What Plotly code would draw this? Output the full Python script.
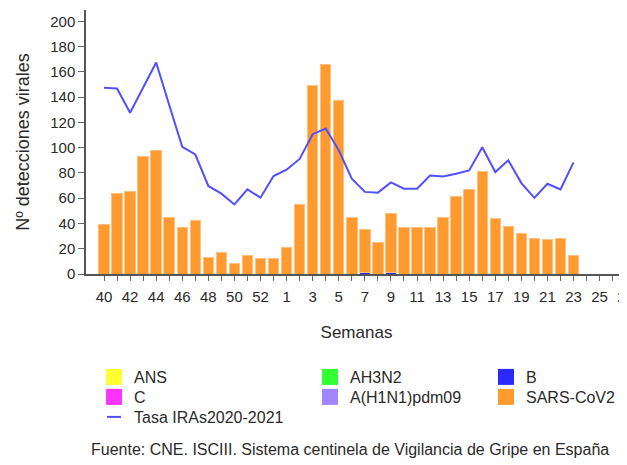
import plotly.graph_objects as go

weeks = ["40", "41", "42", "43", "44", "45", "46", "47", "48", "49", "50", "51", "52", "53",
         "1", "2", "3", "4", "5", "6", "7", "8", "9", "10", "11", "12", "13", "14", "15",
         "16", "17", "18", "19", "20", "21", "22", "23"]
axis_weeks = weeks + ["24", "25", "26", "27"]
tick_labels = ["40", "", "42", "", "44", "", "46", "", "48", "", "50", "", "52", "",
               "1", "", "3", "", "5", "", "7", "", "9", "", "11", "", "13", "", "15",
               "", "17", "", "19", "", "21", "", "23", "", "25", "", "27"]

sars_cov2 = [39, 64, 65, 93, 98, 45, 37, 42, 13, 17, 8, 15, 12, 12,
             21, 55, 149, 166, 137, 45, 34, 25, 47, 37, 37, 37, 45, 61, 67,
             81, 44, 38, 32, 28, 27, 28, 15]
b_virus = [0, 0, 0, 0, 0, 0, 0, 0, 0, 0, 0, 0, 0, 0,
           0, 0, 0, 0, 0, 0, 1, 0, 1, 0, 0, 0, 0, 0, 0,
           0, 0, 0, 0, 0, 0, 0, 0]
ans = [0, 0, 0, 0, 0, 0, 0, 0, 0, 0, 0, 0, 0, 0,
       0, 0, 0, 0, 0, 0, 0, 0, 0, 0, 0, 0, 0, 0, 0,
       0, 0, 0, 0, 0, 0, 0, 0]
c_virus = ans
ah3n2 = ans
h1n1 = ans
tasa_iras = [147.5, 146.8, 127.7, 147.5, 167.4, 133.8, 100.7, 94.6, 69.7, 63.6, 55.1, 67, 60.4, 77.6,
             82.6, 91.1, 110.7, 115.2, 98, 75.5, 65, 64.4, 72.5, 67.5, 67.5, 78, 77.2, 79.4, 82,
             100.3, 80.7, 90, 72, 60.3, 71.4, 67, 88.4]

series_names = ["ANS", "C", "AH3N2", "A(H1N1)pdm09", "B", "SARS-CoV2"]
series_values = [ans, c_virus, ah3n2, h1n1, b_virus, sars_cov2]
series_colors = ["#ffff33", "#ff33ff", "#33ff33", "#a184ff", "#2a2aff", "#ff9a2e"]
line_name = "Tasa IRAs2020-2021"
line_color = "#5050ff"

text_col = "#2a2a2a"
font_family = "Liberation Sans, Arial, sans-serif"

# the page has an 8px body margin; positions below are in page pixels.
# plot area in page pixels: x 86..627, y 10..274
def px_x(p):
    return (p - 86) / 541

def px_y(p):
    return (274 - p) / 264

# legend slot (left x, top y) in page pixels for each entry
legend_slots = {
    "ANS": (94, 360), "C": (94, 380), line_name: (94, 400),
    "AH3N2": (310, 360), "A(H1N1)pdm09": (310, 380),
    "B": (486, 360), "SARS-CoV2": (486, 380),
}

fig = go.Figure()

for name, vals, color in zip(series_names, series_values, series_colors):
    line = dict(color="#ffbf80", width=1) if name == "SARS-CoV2" else dict(width=0)
    fig.add_trace(go.Bar(x=weeks, y=vals, name=name, showlegend=False,
                         marker=dict(color=color, line=line)))
fig.add_trace(go.Scatter(x=weeks, y=tasa_iras, name=line_name, showlegend=False,
                         mode="lines", line=dict(color=line_color, width=2)))

leg_common = dict(xanchor="left", yanchor="top",
                  bgcolor="rgba(0,0,0,0)", font=dict(size=16, color=text_col, family=font_family),
                  itemwidth=30, itemsizing="trace")

legend_layout = {}
entries = [(n, c, "square", 16) for n, c in zip(series_names, series_colors)]
entries.append((line_name, line_color, "line-ew", 10))
for i, (name, color, symbol, size) in enumerate(entries):
    key = "legend" if i == 0 else f"legend{i + 1}"
    fig.add_trace(go.Scatter(x=[None], y=[None], name=name, legend=key, mode="markers",
                             marker=dict(symbol=symbol, size=size, color=color,
                                         line=dict(color=color, width=2 if symbol == "line-ew" else 0))))
    lx, ly = legend_slots[name]
    legend_layout[key] = dict(x=px_x(lx), y=px_y(ly), **leg_common)

fig.update_layout(
    width=619, height=457,
    margin=dict(l=78, r=0, t=2, b=191, autoexpand=False),
    paper_bgcolor="white", plot_bgcolor="white",
    barmode="stack", bargap=0.2,
    font=dict(family=font_family, color=text_col, size=15),
    showlegend=True,
    xaxis=dict(type="category", categoryorder="array", categoryarray=axis_weeks,
               range=[-1.38, 40.1], tickmode="array", tickvals=axis_weeks, ticktext=tick_labels,
               ticks="outside", ticklen=5, tickcolor="#666", tickwidth=1, ticklabelstandoff=3,
               showline=True, linecolor="#555", linewidth=1.5, showgrid=False,
               tickfont=dict(size=15, color=text_col), tickangle=0,
               title=dict(text="Semanas", font=dict(size=17, color=text_col), standoff=22)),
    yaxis=dict(range=[0, 209], tickvals=[0, 20, 40, 60, 80, 100, 120, 140, 160, 180, 200],
               ticks="outside", ticklen=6, tickcolor="#666", tickwidth=1,
               showline=True, linecolor="#555", linewidth=1.5, showgrid=False, zeroline=False,
               tickfont=dict(size=15, color=text_col),
               title=dict(text="Nº detecciones virales", font=dict(size=18, color=text_col), standoff=16)),
    annotations=[dict(text="Fuente: CNE. ISCIII. Sistema centinela de Vigilancia de Gripe en España",
                      xref="paper", yref="paper", x=px_x(350), y=px_y(450),
                      xanchor="center", yanchor="middle", showarrow=False,
                      font=dict(size=16, color=text_col))],
    **legend_layout,
)

fig.write_html("out.html")
